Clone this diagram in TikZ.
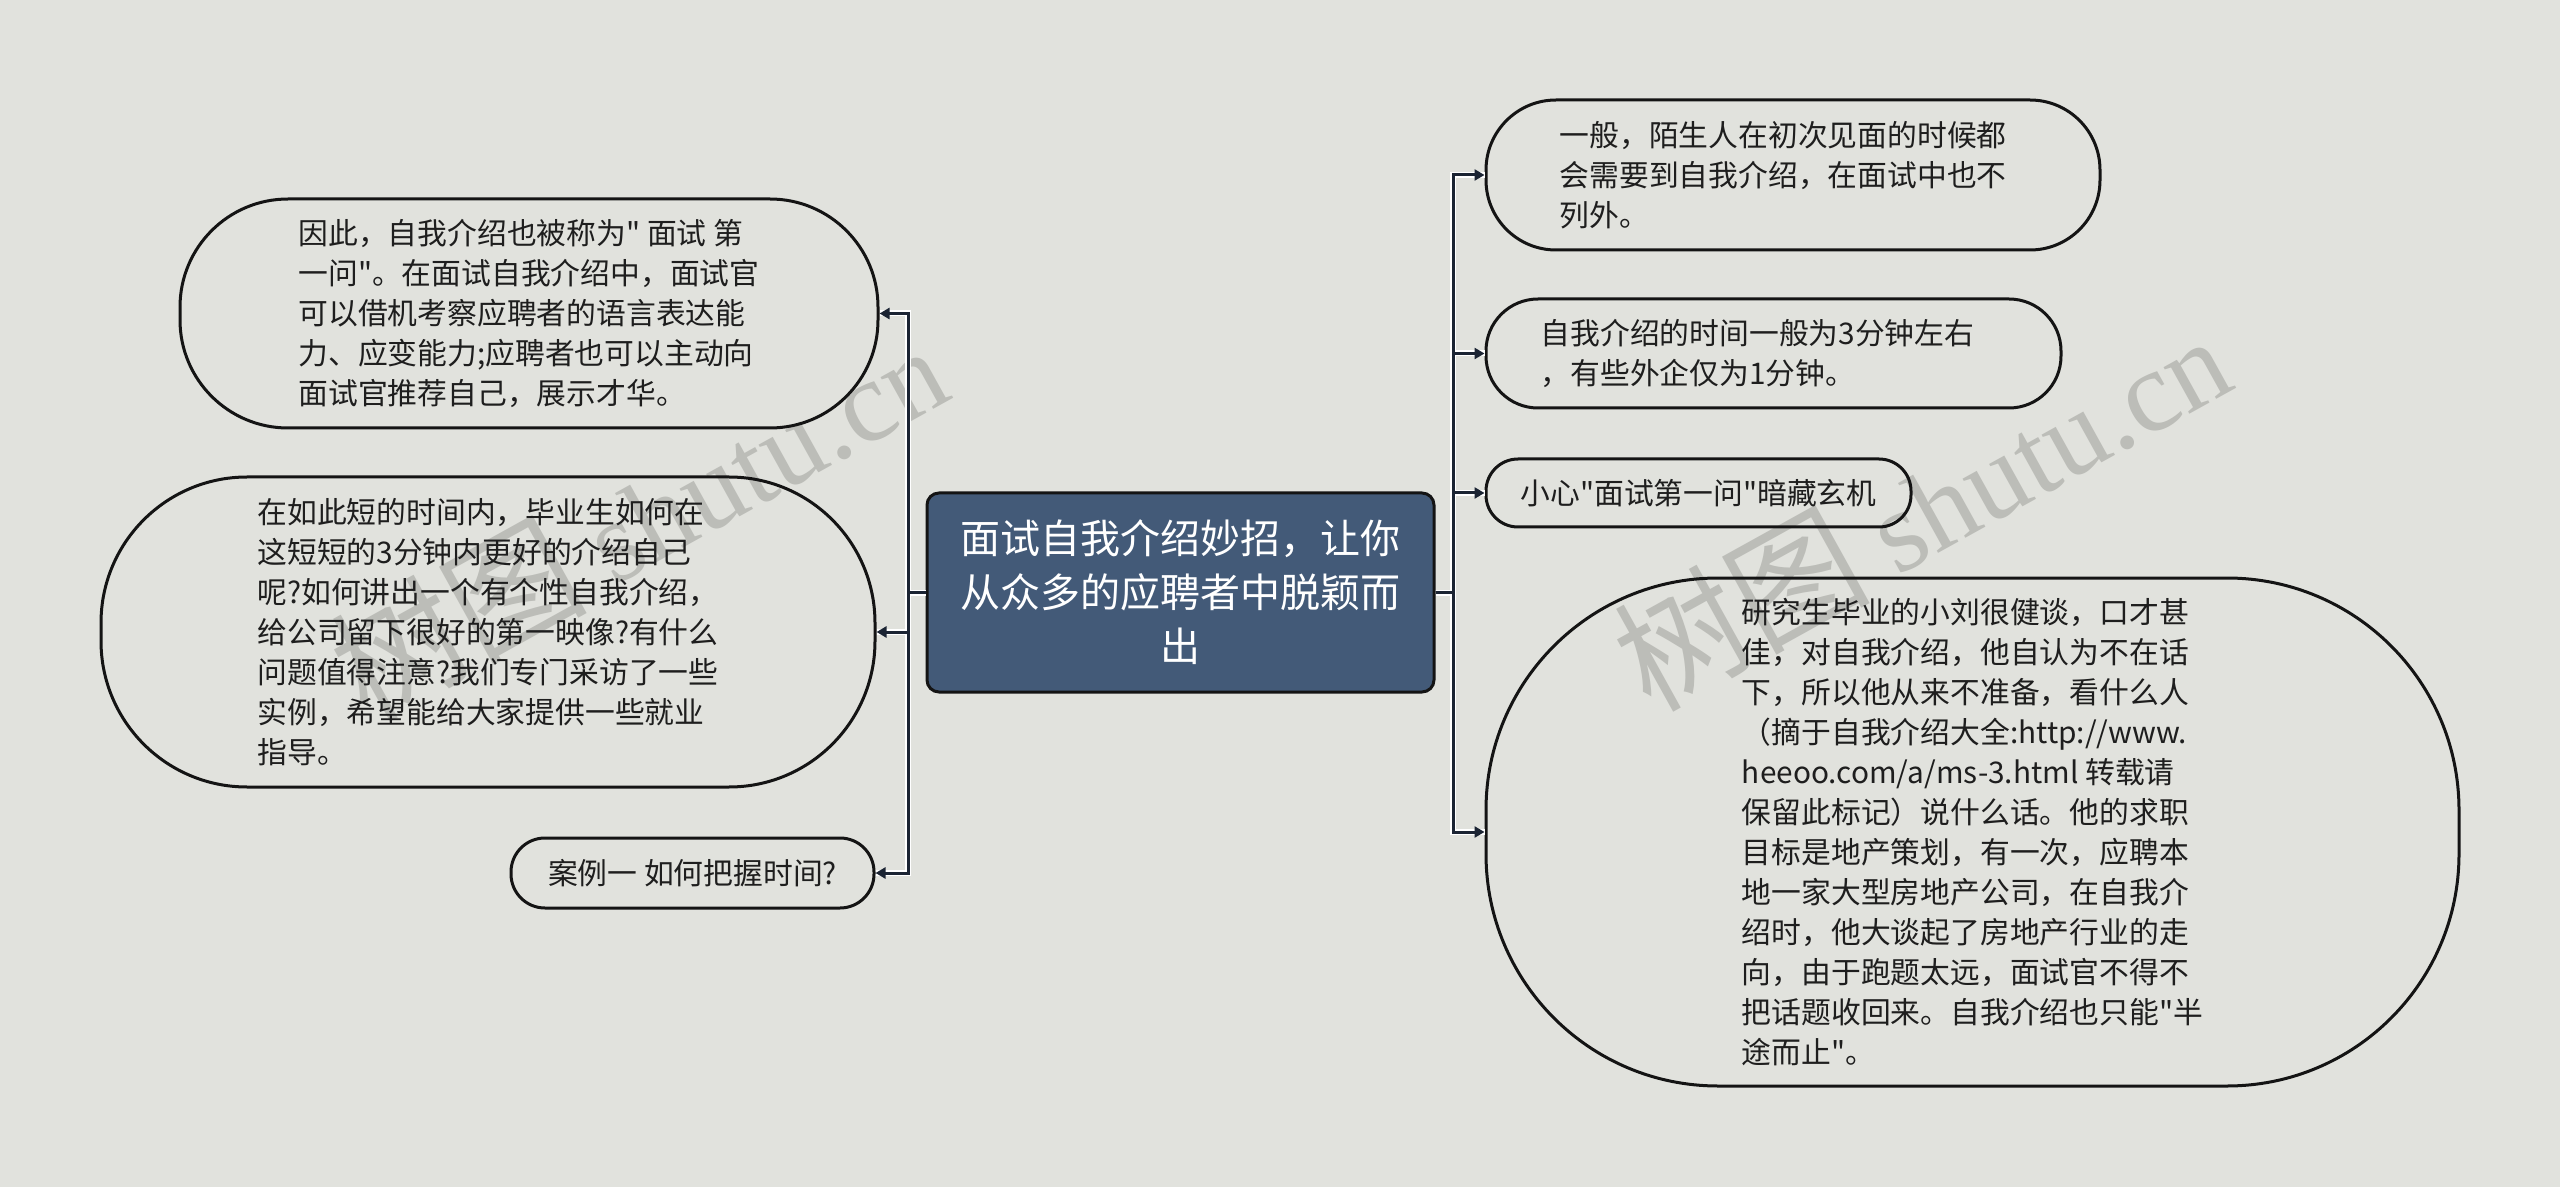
\documentclass[tikz,border=0pt]{standalone}
\usepackage{fontspec}
\setmainfont{Noto Sans CJK SC}[Ligatures=TeXOff]
\newfontfamily\wmlat{Liberation Serif}
\newfontfamily\wmcjk{Noto Sans CJK SC}
\usetikzlibrary{arrows.meta}
\definecolor{bg}{RGB}{225,226,221}
\definecolor{hub}{RGB}{67,90,120}
\definecolor{lnk}{RGB}{27,36,51}
\definecolor{wmc}{RGB}{188,189,184}
\definecolor{txt}{RGB}{30,30,30}
\tikzset{
  leaf/.style={draw=black!92, line width=1.5pt, text=txt, align=left, inner sep=0pt,
    font=\fontsize{14.9}{20}\selectfont, rounded corners=#1},
  hubbox/.style={draw=black!92, line width=1.5pt, fill=hub, text=white, align=center, inner sep=0pt,
    font=\fontsize{20}{27}\selectfont, rounded corners=6pt, minimum width=253.5pt, minimum height=99.5pt},
  halo/.style={draw=white, line width=3pt},
  conn/.style={draw=lnk, line width=1.5pt, -{Triangle[length=5pt,width=5.5pt]}},
  wmark/.style={text=wmc, font=\fontsize{58}{58}\selectfont, inner sep=0pt}
}
\newcommand{\padbox}[1]{\rule{#1}{0pt}}
\begin{document}
\begin{tikzpicture}[x=0.5pt,y=-0.5pt]
\fill[bg] (0,0) rectangle (2560,1187);
\useasboundingbox (0,0) rectangle (2560,1187);
% watermarks
\node[wmark, rotate=29] (w1) at (638,518) {{\wmcjk\fontsize{64}{64}\selectfont 树图} {\wmlat shutu.cn}};
\node[wmark, rotate=29] (w2) at (1921,508) {{\wmcjk\fontsize{64}{64}\selectfont 树图} {\wmlat shutu.cn}};
% centre
\node[hubbox] (C) at (1180.5,592.5) {面试自我介绍妙招，让你\\从众多的应聘者中脱颖而\\出};
% left
\node[leaf=54pt, minimum width=349pt, minimum height=114.5pt] (L1) at (529,313.5) {因此，自我介绍也被称为" 面试 第\\一问"。在面试自我介绍中，面试官\\可以借机考察应聘者的语言表达能\\力、应变能力;应聘者也可以主动向\\面试官推荐自己，展示才华。};
\node[leaf=73pt, minimum width=387pt, minimum height=155pt] (L2) at (488,632) {在如此短的时间内，毕业生如何在\\这短短的3分钟内更好的介绍自己\\呢?如何讲出一个有个性自我介绍，\\给公司留下很好的第一映像?有什么\\问题值得注意?我们专门采访了一些\\实例，希望能给大家提供一些就业\\指导。};
\node[leaf=17pt, minimum width=181.5pt, minimum height=35pt] (L3) at (692.5,873) {案例一 如何把握时间?};
% right
\node[leaf=35pt, minimum width=307pt, minimum height=75pt] (R1) at (1793,175) {一般，陌生人在初次见面的时候都\padbox{9.8pt}\\会需要到自我介绍，在面试中也不\\列外。};
\node[leaf=26pt, minimum width=287.5pt, minimum height=54.5pt] (R2) at (1773.5,353.5) {自我介绍的时间一般为3分钟左右\padbox{16pt}\\，有些外企仅为1分钟。};
\node[leaf=16pt, minimum width=212.5pt, minimum height=34pt] (R3) at (1698.5,493) {小心"面试第一问"暗藏玄机};
\node[leaf=116pt, minimum width=486.5pt, minimum height=254pt] (R4) at (1972.5,832) {研究生毕业的小刘很健谈，口才甚\\佳，对自我介绍，他自认为不在话\\下，所以他从来不准备，看什么人\\（摘于自我介绍大全:http://www.\\heeoo.com/a/ms-3.html 转载请\\保留此标记）说什么话。他的求职\\目标是地产策划，有一次，应聘本\\地一家大型房地产公司，在自我介\\绍时，他大谈起了房地产行业的走\\向，由于跑题太远，面试官不得不\\把话题收回来。自我介绍也只能"半\\途而止"。};
% connectors
\coordinate (tl) at (908,593);
\coordinate (tr) at (1453,593);
\foreach \n in {L1,L2,L3} \draw[halo] (C.west) -- (C.west -| tl) |- (\n.east);
\foreach \n in {R1,R2,R3,R4} \draw[halo] (C.east) -- (C.east -| tr) |- (\n.west);
\foreach \n in {L1,L2,L3} \draw[conn] (C.west) -- (C.west -| tl) |- (\n.east);
\foreach \n in {R1,R2,R3,R4} \draw[conn] (C.east) -- (C.east -| tr) |- (\n.west);
\end{tikzpicture}
\end{document}
